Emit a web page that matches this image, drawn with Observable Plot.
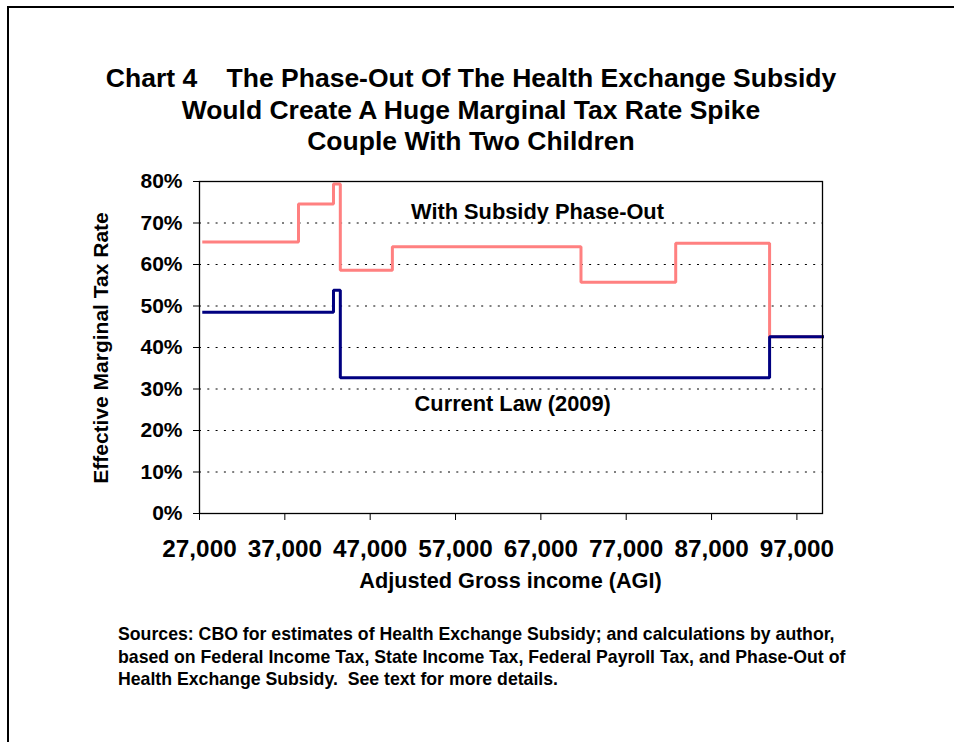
<!DOCTYPE html>
<html>
<head>
<meta charset="utf-8">
<script src="https://cdn.jsdelivr.net/npm/d3@7"></script>
<script src="https://cdn.jsdelivr.net/npm/@observablehq/plot@0.6"></script>
<style>
  html, body { margin: 0; padding: 0; background: #fff; }
  #page { position: relative; width: 954px; height: 742px; overflow: hidden;
          font-family: "Liberation Sans", Arial, Helvetica, sans-serif; font-weight: bold; color: #000; }
  #border { position: absolute; left: 7px; top: 6px; right: 0; bottom: -10px;
            border-top: 2px solid #000; border-left: 2px solid #000; }
  #chart { position: absolute; left: 0; top: 0; }
  .title { position: absolute; left: 0; width: 942px; text-align: center; font-size: 26.5px;
           line-height: 30px; white-space: pre; }
  .ytitle { position: absolute; left: 101px; top: 348px; font-size: 21px; white-space: nowrap;
            transform: translate(-50%, -50%) rotate(-90deg); }
  .xtitle { position: absolute; left: 199px; width: 623px; top: 568px; text-align: center; font-size: 21.7px; }
  .source { position: absolute; left: 118px; top: 623px; font-size: 17.7px; line-height: 22.5px; white-space: pre; }
</style>
</head>
<body>
<div id="page">
  <div id="border"></div>
  <div id="chart"></div>
  <div class="title" style="top:63px">Chart 4    The Phase-Out Of The Health Exchange Subsidy</div>
  <div class="title" style="top:95px">Would Create A Huge Marginal Tax Rate Spike</div>
  <div class="title" style="top:126px">Couple With Two Children</div>
  <div class="ytitle">Effective Marginal Tax Rate</div>
  <div class="xtitle">Adjusted Gross income (AGI)</div>
  <div class="source">Sources: CBO for estimates of Health Exchange Subsidy; and calculations by author,
based on Federal Income Tax, State Income Tax, Federal Payroll Tax, and Phase-Out of
Health Exchange Subsidy.  See text for more details.</div>
</div>
<script>
// Effective marginal tax rate (%) by adjusted gross income, as step segments:
// each income is where a new rate begins; the last point closes the final step.
const subsidyIncome = [27500, 38600, 42700, 43500, 49600, 71700, 82800, 93800, 100000];
const subsidyRate   = [65.4, 74.6, 79.4, 58.6, 64.3, 55.7, 65.1, 42.6, 42.6];

const currentIncome = [27500, 42700, 43500, 93800, 100000];
const currentRate   = [48.5, 53.8, 32.7, 42.6, 42.6];

const incomeTicks = [27000, 37000, 47000, 57000, 67000, 77000, 87000, 97000];
const rateTicks   = [0, 10, 20, 30, 40, 50, 60, 70, 80];
const gridRates   = [10, 20, 30, 40, 50, 60, 70];

const seriesLabels = ["With Subsidy Phase-Out", "Current Law (2009)"];

const subsidy = subsidyIncome.map((x, i) => ({income: x, rate: subsidyRate[i]}));
const current = currentIncome.map((x, i) => ({income: x, rate: currentRate[i]}));

const font = "'Liberation Sans', Arial, Helvetica, sans-serif";

const chart = Plot.plot({
  width: 954,
  height: 742,
  marginLeft: 199,
  marginRight: 132,
  marginTop: 181,
  marginBottom: 229,
  style: {fontFamily: font, background: "transparent", overflow: "visible"},
  x: {domain: [27000, 100000]},
  y: {domain: [0, 80]},
  marks: [
    Plot.ruleY(gridRates, {stroke: "#000", strokeWidth: 1, strokeDasharray: "2,6.3"}),
    Plot.line(subsidy, {x: "income", y: "rate", curve: "step-after",
      stroke: "#ff8080", strokeWidth: 3, strokeLinejoin: "miter", strokeLinecap: "square"}),
    Plot.line(current, {x: "income", y: "rate", curve: "step-after",
      stroke: "#000080", strokeWidth: 3, strokeLinejoin: "miter", strokeLinecap: "square"}),
    Plot.text([seriesLabels[0]], {x: 66600, y: 72.6, text: d => d,
      fontSize: 21.8, fontWeight: "bold", fill: "#000"}),
    Plot.text([seriesLabels[1]], {x: 63700, y: 26.4, text: d => d,
      fontSize: 21.8, fontWeight: "bold", fill: "#000"}),
    Plot.frame({stroke: "#000", strokeWidth: 1.3}),
    Plot.axisY({ticks: rateTicks, tickFormat: d => d + "%", tickSize: 6, tickPadding: 11,
      fontSize: 21, fontWeight: "bold", label: null}),
    Plot.axisX({ticks: incomeTicks, tickFormat: d3.format(","), tickSize: 7, tickPadding: 19,
      fontSize: 24.3, fontWeight: "bold", label: null})
  ]
});
document.getElementById("chart").appendChild(chart);
</script>
</body>
</html>
